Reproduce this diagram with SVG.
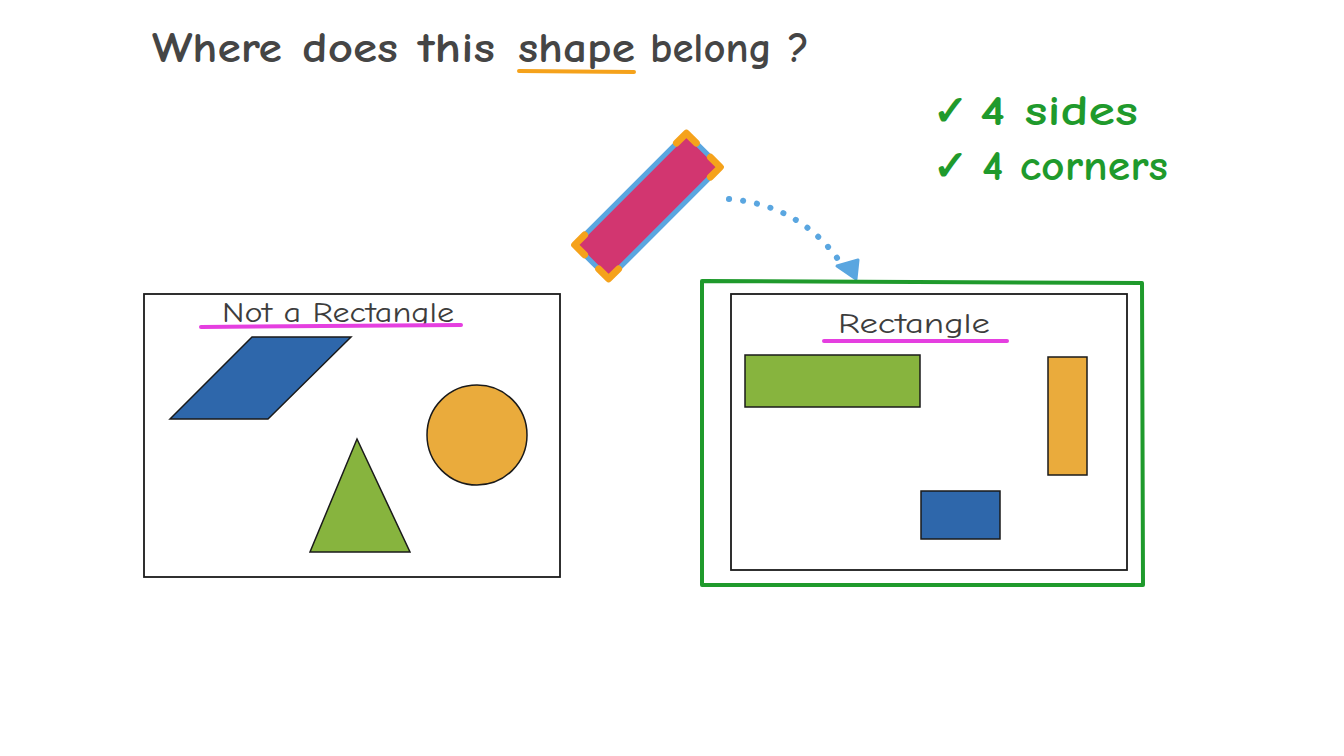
<svg xmlns="http://www.w3.org/2000/svg" width="1344" height="756" viewBox="0 0 1344 756">
<style>
.hand{font-family:"Comic Neue","Noto Sans","Liberation Sans",sans-serif;}
.title{font-size:42px;fill:#454545;font-weight:bold;}
.lbl{font-size:28px;fill:#3d3d3d;}
.chk{font-size:42px;fill:#1f9a2c;font-weight:bold;}
.ul{stroke-width:4;stroke-linecap:round;fill:none;}
.shape{stroke:#1a1a1a;stroke-width:1.5;}
.frame{fill:#fff;stroke:#1a1a1a;stroke-width:1.8;}
</style>
<rect width="1344" height="756" fill="#fff"/>
<g id="title">
<text class="hand title" x="152" y="62" textLength="130" lengthAdjust="spacingAndGlyphs">Where</text>
<text class="hand title" x="302" y="62" textLength="96" lengthAdjust="spacingAndGlyphs">does</text>
<text class="hand title" x="418" y="62" textLength="77" lengthAdjust="spacingAndGlyphs">this</text>
<text class="hand title" x="518" y="62" textLength="117" lengthAdjust="spacingAndGlyphs">shape</text>
<text class="hand title" x="650" y="62" textLength="122" lengthAdjust="spacingAndGlyphs">belong</text>
<text class="hand title" x="788" y="62">?</text>
<path class="ul" d="M519 71 L634 72" stroke="#f5a21b"/>
</g>
<g id="checks">
<text class="hand chk" x="933" y="125">✓</text>
<text class="hand chk" x="980" y="125" textLength="158" lengthAdjust="spacingAndGlyphs">4 sides</text>
<text class="hand chk" x="933" y="180">✓</text>
<text class="hand chk" x="982" y="180" textLength="186" lengthAdjust="spacingAndGlyphs">4 corners</text>
</g>
<g id="moving-shape">
<g transform="translate(647.5 206) rotate(-45)">
<rect x="-79" y="-24" width="158" height="48" fill="#d23670" stroke="#5aa6e0" stroke-width="5"/>
<path d="M-79 -10 V-24 H-65 M65 -24 H79 V-10 M79 10 V24 H65 M-65 24 H-79 V10" fill="none" stroke="#f5a21b" stroke-width="7" stroke-linecap="round" stroke-linejoin="round"/>
</g>
</g>
<g id="connectors">
<path d="M729 199 Q800 205 840 262" fill="none" stroke="#5aa6e0" stroke-width="6" stroke-linecap="round" stroke-dasharray="0.1 14"/>
<polygon points="837,266 858,260 856,279" fill="#5aa6e0" stroke="#5aa6e0" stroke-width="3" stroke-linejoin="round"/>
</g>
<g id="not-rectangle-box">
<rect class="frame" x="144" y="294" width="416" height="283"/>
<text class="hand lbl" x="222" y="322" textLength="232" lengthAdjust="spacingAndGlyphs">Not a Rectangle</text>
<path class="ul" d="M201 327 L461 325" stroke="#e53fe0"/>
<polygon class="shape" points="170,419 252,337 351,337 268,419" fill="#2e67ab"/>
<circle class="shape" cx="477" cy="435" r="50" fill="#eaab3c"/>
<polygon class="shape" points="357,439 410,552 310,552" fill="#87b43e"/>
</g>
<g id="rectangle-box">
<path d="M702 281 L1142 283 L1143 585 L702 585 Z" fill="none" stroke="#1f9a2c" stroke-width="4" stroke-linejoin="round"/>
<rect class="frame" x="731" y="294" width="396" height="276"/>
<text class="hand lbl" x="838" y="333" textLength="152" lengthAdjust="spacingAndGlyphs">Rectangle</text>
<path class="ul" d="M824 341 L1007 341" stroke="#e53fe0"/>
<rect class="shape" x="745" y="355" width="175" height="52" fill="#87b43e"/>
<rect class="shape" x="1048" y="357" width="39" height="118" fill="#eaab3c"/>
<rect class="shape" x="921" y="491" width="79" height="48" fill="#2e67ab"/>
</g>
</svg>
